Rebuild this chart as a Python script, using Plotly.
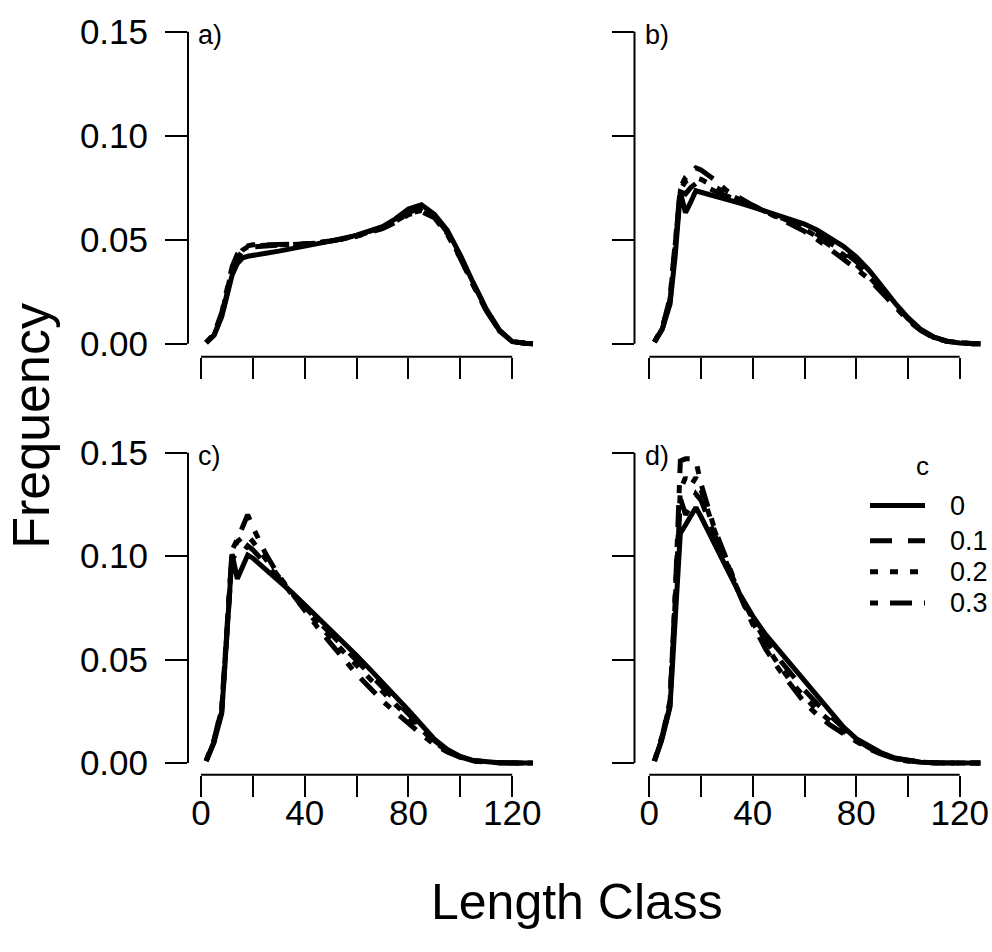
import plotly.graph_objects as go

W, H = 992, 952

# ---------------- data ----------------
length_class = [2, 5, 8, 10, 12, 14, 16, 18, 20, 25, 30, 35, 40, 45, 50, 55, 60, 65,
                70, 75, 80, 85, 90, 95, 100, 105, 110, 115, 120, 125, 128]
c_values = ["0", "0.1", "0.2", "0.3"]
panel_labels = ["a)", "b)", "c)", "d)"]
x_tickvals = [0, 20, 40, 60, 80, 100, 120]
x_ticktext = ["0", "", "40", "", "80", "", "120"]
y_tickvals = [0.0, 0.05, 0.10, 0.15]

a_c0 = [0.0005, 0.004, 0.013, 0.023, 0.033, 0.0385, 0.0412, 0.042, 0.0423, 0.0435, 0.0445, 0.0457, 0.0468, 0.0478, 0.049, 0.0505,
        0.0522, 0.0543, 0.0563, 0.060, 0.0648, 0.0668, 0.0622, 0.0545, 0.0426, 0.0292, 0.0166, 0.0065, 0.0010, 0.0002, 0.0]
a_c1 = [0.0005, 0.004, 0.013, 0.024, 0.035, 0.041, 0.0445, 0.046, 0.0465, 0.047, 0.0472, 0.0474, 0.0478, 0.0484, 0.0493, 0.0505,
        0.052, 0.054, 0.056, 0.0592, 0.063, 0.0655, 0.0615, 0.0535, 0.042, 0.029, 0.0165, 0.0065, 0.001, 0.0002, 0.0]
a_c2 = [0.0005, 0.0045, 0.014, 0.025, 0.036, 0.042, 0.045, 0.0465, 0.047, 0.0473, 0.0474, 0.0476, 0.0479, 0.0485, 0.0493, 0.0504,
        0.0518, 0.0537, 0.0557, 0.0588, 0.0625, 0.0640, 0.061, 0.053, 0.0415, 0.0285, 0.016, 0.0063, 0.001, 0.0002, 0.0]
a_c3 = [0.0005, 0.0045, 0.015, 0.026, 0.037, 0.043, 0.0455, 0.047, 0.0475, 0.0476, 0.0476, 0.0477, 0.048, 0.0485, 0.0492, 0.0503,
        0.0516, 0.0533, 0.0553, 0.0583, 0.062, 0.0635, 0.0605, 0.0525, 0.041, 0.028, 0.0158, 0.0062, 0.001, 0.0002, 0.0]

b_c0 = [0.0008, 0.007, 0.019, 0.042, 0.0727, 0.063, 0.068, 0.0735, 0.0728, 0.0712, 0.0695, 0.0676, 0.0657, 0.0638, 0.0617, 0.0597,
        0.0575, 0.0545, 0.0508, 0.0468, 0.0418, 0.0352, 0.0275, 0.0195, 0.0125, 0.0068, 0.0032, 0.0012, 0.0003, 0.0, 0.0]
b_c1 = [0.0008, 0.007, 0.020, 0.045, 0.073, 0.072, 0.075, 0.077, 0.0765, 0.0735, 0.071, 0.0685, 0.066, 0.0637, 0.0612, 0.0588,
        0.056, 0.0525, 0.0485, 0.0443, 0.0395, 0.0335, 0.0262, 0.0187, 0.012, 0.0066, 0.0031, 0.0012, 0.0003, 0.0, 0.0]
b_c2 = [0.0008, 0.0075, 0.021, 0.047, 0.074, 0.078, 0.079, 0.0797, 0.079, 0.0755, 0.0722, 0.0692, 0.0663, 0.0636, 0.0608, 0.058,
        0.055, 0.0513, 0.0472, 0.0428, 0.038, 0.0322, 0.0252, 0.018, 0.0116, 0.0064, 0.003, 0.0011, 0.0003, 0.0, 0.0]
b_c3 = [0.0008, 0.0075, 0.022, 0.049, 0.075, 0.080, 0.082, 0.0845, 0.0835, 0.079, 0.0735, 0.0698, 0.0665, 0.0635, 0.0603, 0.0572,
        0.054, 0.050, 0.0455, 0.041, 0.036, 0.031, 0.0243, 0.0172, 0.0112, 0.0062, 0.0029, 0.0011, 0.0003, 0.0, 0.0]

c_c0 = [0.001, 0.010, 0.024, 0.062, 0.101, 0.089, 0.095, 0.1005, 0.099, 0.0935, 0.0885, 0.0825, 0.0765, 0.0705, 0.0645, 0.058,
        0.052, 0.0455, 0.039, 0.032, 0.0255, 0.0185, 0.0115, 0.0065, 0.0032, 0.0012, 0.0004, 0.0001, 0.0, 0.0, 0.0]
c_c1 = [0.001, 0.010, 0.025, 0.064, 0.100, 0.098, 0.102, 0.105, 0.103, 0.096, 0.089, 0.082, 0.0752, 0.0688, 0.0625, 0.056,
        0.0497, 0.0432, 0.0368, 0.0302, 0.024, 0.0173, 0.0108, 0.0061, 0.003, 0.0011, 0.0004, 0.0001, 0.0, 0.0, 0.0]
c_c2 = [0.001, 0.011, 0.026, 0.066, 0.102, 0.107, 0.109, 0.110, 0.107, 0.0985, 0.090, 0.0815, 0.0742, 0.0672, 0.0605, 0.0538,
        0.0473, 0.0408, 0.0345, 0.0282, 0.0222, 0.016, 0.0102, 0.0058, 0.0029, 0.0011, 0.0004, 0.0001, 0.0, 0.0, 0.0]
c_c3 = [0.001, 0.011, 0.027, 0.068, 0.103, 0.108, 0.114, 0.120, 0.114, 0.101, 0.0905, 0.082, 0.0735, 0.0655, 0.0578, 0.050,
        0.043, 0.0365, 0.030, 0.0245, 0.019, 0.0138, 0.009, 0.0053, 0.0027, 0.001, 0.0003, 0.0001, 0.0, 0.0, 0.0]

d_c0 = [0.001, 0.012, 0.027, 0.070, 0.111, 0.115, 0.119, 0.1235, 0.119, 0.106, 0.094, 0.0815, 0.071, 0.062, 0.0545, 0.047,
        0.0395, 0.032, 0.0252, 0.0175, 0.0118, 0.008, 0.0048, 0.0024, 0.0011, 0.0004, 0.0001, 0.0, 0.0, 0.0, 0.0]
d_c1 = [0.001, 0.012, 0.028, 0.075, 0.128, 0.120, 0.124, 0.130, 0.127, 0.111, 0.096, 0.0815, 0.0695, 0.059, 0.0505, 0.0425,
        0.0352, 0.0285, 0.0225, 0.0165, 0.0113, 0.0074, 0.0044, 0.0022, 0.001, 0.0004, 0.0001, 0.0, 0.0, 0.0, 0.0]
d_c2 = [0.001, 0.013, 0.029, 0.078, 0.132, 0.138, 0.134, 0.138, 0.132, 0.113, 0.097, 0.081, 0.068, 0.057, 0.0475, 0.039,
        0.0318, 0.0255, 0.0202, 0.0152, 0.0107, 0.007, 0.0042, 0.0021, 0.001, 0.0004, 0.0001, 0.0, 0.0, 0.0, 0.0]
d_c3 = [0.001, 0.013, 0.030, 0.080, 0.146, 0.147, 0.147, 0.146, 0.135, 0.114, 0.098, 0.081, 0.067, 0.055, 0.0455, 0.037,
        0.0292, 0.0232, 0.0183, 0.0142, 0.0102, 0.0068, 0.0041, 0.002, 0.0009, 0.0003, 0.0001, 0.0, 0.0, 0.0, 0.0]

panels_data = [
    [a_c0, a_c1, a_c2, a_c3],
    [b_c0, b_c1, b_c2, b_c3],
    [c_c0, c_c1, c_c2, c_c3],
    [d_c0, d_c1, d_c2, d_c3],
]

# ---------------- styles / geometry ----------------
FONT = "Liberation Sans, Arial, sans-serif"
LW = 5
dashes = ["solid", "22px,16px", "8px,12px", "8px,12px,22px,12px"]

# pixel geometry of columns: (px of x=0, px of x=120, left edge, right edge)
cols = [(201.0, 512.2, 188.0, 551.0), (649.3, 959.7, 634.5, 992.0)]
# rows: (px of y=0, px of y=0.15, top edge, bottom edge)
rows = [(341.7, 25.0, 12.0, 355.0), (767.3, 452.3, 440.0, 779.3)]

fig = go.Figure()
layout = dict(width=W, height=H, margin=dict(l=0, r=0, t=0, b=0),
              paper_bgcolor="white", plot_bgcolor="white", showlegend=False,
              font=dict(family=FONT, color="black"))
shapes = []
annotations = []

for p in range(4):
    r, c = divmod(p, 2)
    px0, px120, L, R = cols[c]
    py0, py15, T, B = rows[r]
    sx = (px120 - px0) / 120.0
    sy = (py0 - py15) / 0.15
    xr = [(L - px0) / sx, (R - px0) / sx]
    yr = [(py0 - B) / sy, (py0 - T) / sy]
    sfx = "" if p == 0 else str(p + 1)
    xa, ya = "x" + sfx, "y" + sfx
    layout["xaxis" + sfx] = dict(
        domain=[L / W, R / W], range=xr, anchor=ya, showgrid=False, zeroline=False,
        showline=False, ticks="outside", ticklen=21, tickwidth=2, tickcolor="black",
        tickvals=x_tickvals, ticktext=x_ticktext, showticklabels=(r == 1),
        tickfont=dict(size=35, family=FONT, color="black"), ticklabelstandoff=-14,
        fixedrange=True)
    layout["yaxis" + sfx] = dict(
        domain=[1 - B / H, 1 - T / H], range=yr, anchor=xa, showgrid=False, zeroline=False,
        showline=False, ticks="outside", ticklen=22, tickwidth=2, tickcolor="black",
        tickvals=y_tickvals, tickformat=".2f", showticklabels=(c == 0),
        tickfont=dict(size=35, family=FONT, color="black"), ticklabelstandoff=10,
        fixedrange=True)
    # detached R-style axis lines spanning first..last tick
    shapes.append(dict(type="line", xref=xa, yref=ya + " domain", x0=x_tickvals[0], x1=x_tickvals[-1],
                       y0=0, y1=0, line=dict(color="black", width=2)))
    shapes.append(dict(type="line", xref=xa + " domain", yref=ya, x0=0, x1=0,
                       y0=y_tickvals[0], y1=y_tickvals[-1], line=dict(color="black", width=2)))
    # curves: dashed first, solid on top
    for k in [3, 2, 1, 0]:
        fig.add_trace(go.Scatter(x=length_class, y=panels_data[p][k], mode="lines",
                                 line=dict(color="black", width=LW, dash=dashes[k]),
                                 xaxis=xa, yaxis=ya, name="c = " + c_values[k],
                                 hoverinfo="skip"))
    # panel label
    annotations.append(dict(text=panel_labels[p], xref="paper", yref="paper",
                            x=(L + 8) / W, y=1 - (py15 + 3) / H, xanchor="left", yanchor="middle",
                            showarrow=False, font=dict(size=27, family=FONT, color="black")))

# legend in panel d (drawn manually)
leg_x0, leg_x1, leg_tx = 870, 925, 948
leg_ys = [506, 541.7, 573.3, 605]
annotations.append(dict(text="c", xref="paper", yref="paper", x=922 / W, y=1 - 466 / H,
                        xanchor="center", yanchor="middle", showarrow=False,
                        font=dict(size=26, family=FONT, color="black")))
for k in range(4):
    yy = 1 - leg_ys[k] / H
    shapes.append(dict(type="line", xref="paper", yref="paper", x0=leg_x0 / W, x1=leg_x1 / W,
                       y0=yy, y1=yy, line=dict(color="black", width=LW, dash=dashes[k])))
    annotations.append(dict(text=c_values[k], xref="paper", yref="paper", x=leg_tx / W, y=yy,
                            xanchor="left", yanchor="middle", showarrow=False,
                            font=dict(size=27, family=FONT, color="black")))

# outer axis titles
annotations.append(dict(text="Frequency", xref="paper", yref="paper", x=31 / W, y=1 - 425 / H,
                        textangle=-90, xanchor="center", yanchor="middle", showarrow=False,
                        font=dict(size=52, family=FONT, color="black")))
annotations.append(dict(text="Length Class", xref="paper", yref="paper", x=577 / W, y=1 - 908 / H,
                        xanchor="center", yanchor="middle", showarrow=False,
                        font=dict(size=50, family=FONT, color="black")))

layout["shapes"] = shapes
layout["annotations"] = annotations
fig.update_layout(**layout)
fig.write_html("out.html")
